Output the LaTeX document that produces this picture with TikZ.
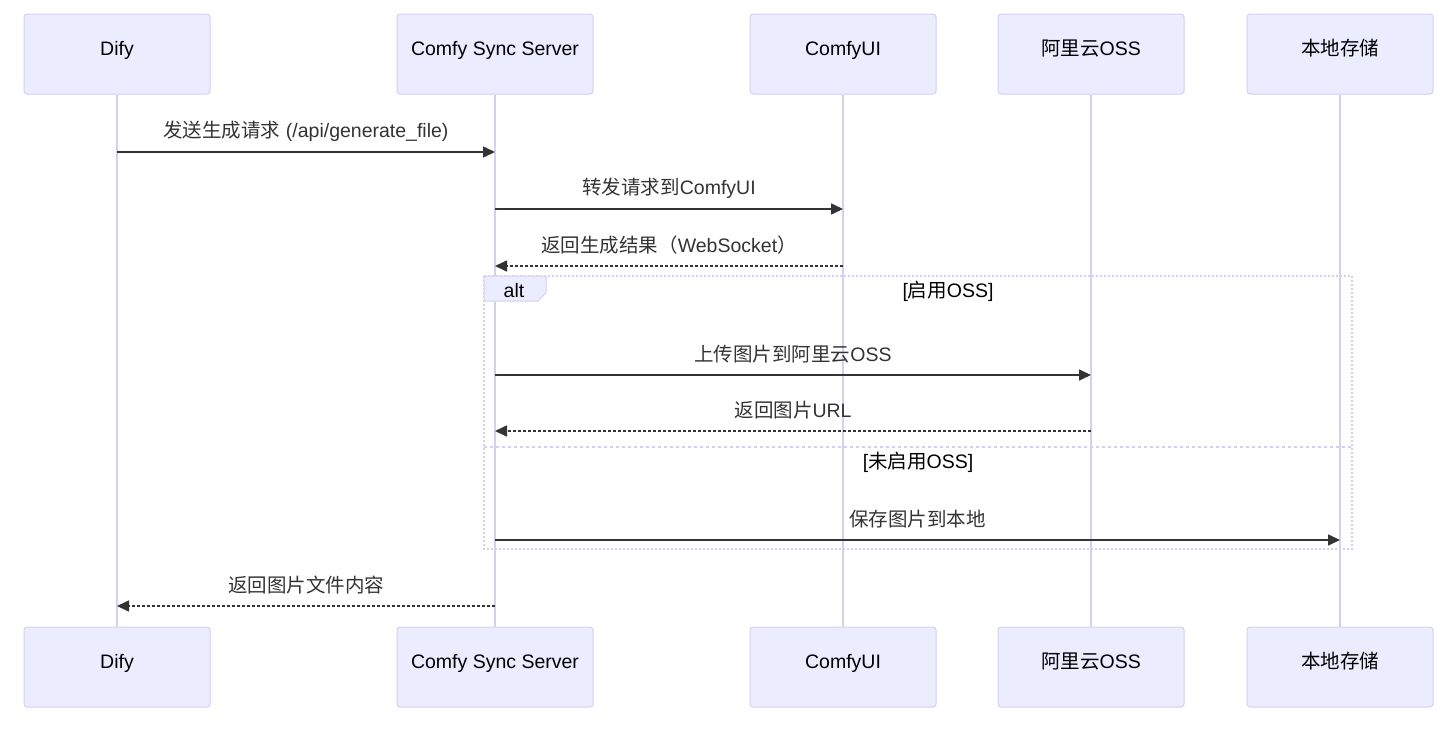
\documentclass[tikz,border=0pt]{standalone}
\usepackage{fontspec}
\setmainfont{Liberation Sans}
\newfontfamily\zhfont{Noto Sans CJK SC}
\newcommand{\zh}[1]{{\zhfont #1}}
\usetikzlibrary{arrows.meta}
\definecolor{actorfill}{HTML}{ECECFF}
\definecolor{actorline}{HTML}{D6CFF3}
\definecolor{msgline}{HTML}{333333}

\begin{document}
\begin{tikzpicture}[x=1pt, y=-1pt,
  actor/.style={draw=actorline, fill=actorfill, rounded corners=3pt, line width=1pt,
    minimum width=186pt, minimum height=80pt, text height=14pt, text depth=12pt,
    font=\fontsize{19.5}{23}\selectfont},
  life/.style={draw=actorline, line width=2pt},
  msg/.style={draw=msgline, line width=1.6pt, -{Triangle[length=12pt,width=11pt]}},
  reply/.style={msg, dash pattern=on 3pt off 2pt},
  lbl/.style={text=msgline, yshift=21pt, font=\fontsize{19.5}{23}\selectfont},
  cond/.style={text=black, font=\fontsize{19.5}{23}\selectfont}]
\useasboundingbox (0,0) rectangle (1450,728);
% actors
\node[actor] (dify) at (117, 54) {Dify};
\node[actor, minimum width=196pt] (sync) at (495, 54) {Comfy Sync Server};
\node[actor] (comfy) at (843, 54) {ComfyUI};
\node[actor] (oss) at (1091, 54) {\zh{阿里云}OSS};
\node[actor] (local) at (1340, 54) {\zh{本地存储}};
\node[actor] (difyB) at (117, 667) {Dify};
\node[actor, minimum width=196pt] (syncB) at (495, 667) {Comfy Sync Server};
\node[actor] (comfyB) at (843, 667) {ComfyUI};
\node[actor] (ossB) at (1091, 667) {\zh{阿里云}OSS};
\node[actor] (localB) at (1340, 667) {\zh{本地存储}};
\path[life] (dify) -- (difyB)
            (sync) -- (syncB)
            (comfy) -- (comfyB)
            (oss) -- (ossB)
            (local) -- (localB);
% alt frame
\draw[actorline, line width=1.5pt, dash pattern=on 2pt off 2pt] (484,276) rectangle (1352,549);
\draw[actorline, line width=1.5pt, dash pattern=on 3pt off 3pt] (484,447) -- (1352,447);
\draw[actorline, fill=actorfill, line width=1pt] (484,276) -- (546,276) -- (546,293) -- (538,301) -- (484,301) -- cycle;
\node[cond] (alt) at (514, 291) {alt};
\node[cond] (c1) at (948, 291) {[\zh{启用}OSS]};
\node[cond] (c2) at (918, 462) {[\zh{未启用}OSS]};
% messages
\draw[msg] (dify |- 0,152) -- node[lbl] {\zh{发送生成请求} (/api/generate\_file)} (sync |- 0,152);
\draw[msg] (sync |- 0,209) -- node[lbl] {\zh{转发请求到}ComfyUI} (comfy |- 0,209);
\draw[reply] (comfy |- 0,266) -- node[lbl] {\zh{返回生成结果（}WebSocket\zh{）}} (sync |- 0,266);
\draw[msg] (sync |- 0,375) -- node[lbl] {\zh{上传图片到阿里云}OSS} (oss |- 0,375);
\draw[reply] (oss |- 0,431) -- node[lbl] {\zh{返回图片}URL} (sync |- 0,431);
\draw[msg] (sync |- 0,540) -- node[lbl] {\zh{保存图片到本地}} (local |- 0,540);
\draw[reply] (sync |- 0,606) -- node[lbl] {\zh{返回图片文件内容}} (dify |- 0,606);
\end{tikzpicture}
\end{document}
